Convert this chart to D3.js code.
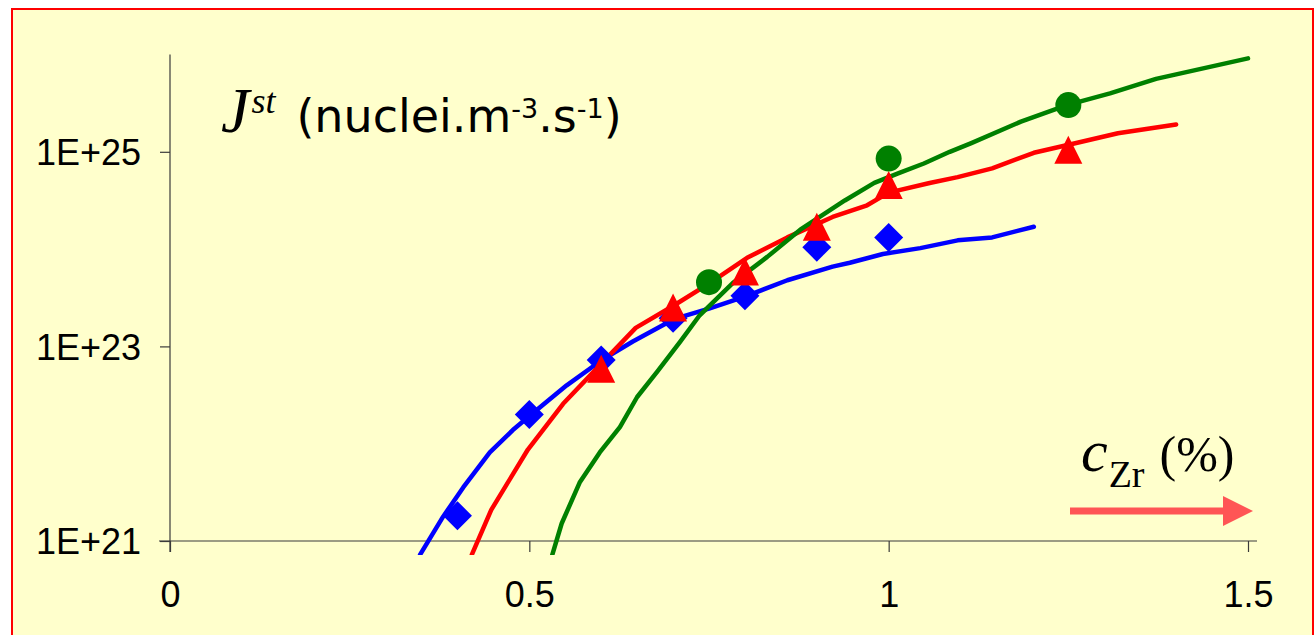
<!DOCTYPE html>
<html>
<head>
<meta charset="utf-8">
<script src="https://cdn.jsdelivr.net/npm/d3@7"></script>
<style>
  html, body { margin: 0; padding: 0; background: #ffffff; }
  svg { display: block; }
</style>
</head>
<body>
<svg id="chart" width="1315" height="635"></svg>
<script>
// Steady-state nucleation rate J (log10 of nuclei.m^-3.s^-1) versus Zr content (%)
const xTicks = [0, 0.5, 1, 1.5];
const yTicks = [1e21, 1e23, 1e25];
const yTickLabels = ["1E+21", "1E+23", "1E+25"];

// Model curves
const blueLineX = [0.348, 0.380, 0.408, 0.445, 0.477, 0.501, 0.552, 0.601, 0.644, 0.701, 0.751, 0.803, 0.859, 0.922, 0.946, 0.992, 1.044, 1.096, 1.144, 1.202];
const blueLineLogJ = [20.86, 21.25, 21.55, 21.91, 22.14, 22.29, 22.60, 22.86, 23.05, 23.28, 23.39, 23.52, 23.68, 23.82, 23.86, 23.95, 24.01, 24.09, 24.12, 24.23];

const redLineX = [0.420, 0.447, 0.498, 0.547, 0.596, 0.648, 0.701, 0.751, 0.803, 0.859, 0.922, 0.970, 1.000, 1.057, 1.096, 1.144, 1.202, 1.261, 1.319, 1.400];
const redLineLogJ = [20.86, 21.32, 21.94, 22.41, 22.79, 23.19, 23.42, 23.65, 23.91, 24.12, 24.33, 24.45, 24.58, 24.68, 24.74, 24.83, 24.99, 25.09, 25.19, 25.28];

const greenLineX = [0.532, 0.545, 0.570, 0.598, 0.626, 0.650, 0.678, 0.710, 0.737, 0.783, 0.831, 0.877, 0.939, 0.980, 1.014, 1.049, 1.085, 1.115, 1.184, 1.248, 1.308, 1.372, 1.500];
const greenLineLogJ = [20.86, 21.18, 21.60, 21.91, 22.17, 22.48, 22.74, 23.05, 23.32, 23.65, 23.92, 24.20, 24.50, 24.68, 24.78, 24.88, 25.00, 25.09, 25.31, 25.48, 25.60, 25.75, 25.96];

// Measured points
const blueDotX = [0.4, 0.5, 0.6, 0.7, 0.8, 0.9, 1.0];
const blueDotLogJ = [21.26, 22.30, 22.86, 23.29, 23.52, 24.02, 24.12];

const redDotX = [0.6, 0.7, 0.8, 0.9, 1.0, 1.25];
const redDotLogJ = [22.77, 23.40, 23.77, 24.23, 24.66, 25.02];

const greenDotX = [0.75, 1.0, 1.25];
const greenDotLogJ = [23.66, 24.93, 25.48];

const svg = d3.select("#chart");

// frame
svg.append("rect").attr("x", 12).attr("y", 9).attr("width", 1301).attr("height", 640)
  .attr("fill", "#FFFFCC").attr("stroke", "#FF0000").attr("stroke-width", 2);

const x = d3.scaleLinear().domain([0, 1.5]).range([170, 1248]);
const y = d3.scaleLog().domain([1e21, 1e26]).range([541, 54.5]);

const zip = (xs, ls) => xs.map((v, i) => ({ x: v, j: Math.pow(10, ls[i]) }));

// clip for the plot region (curves run slightly below the 1E+21 line)
svg.append("clipPath").attr("id", "plotClip")
  .append("rect").attr("x", 170).attr("y", 40).attr("width", 1090).attr("height", 515);

// axes
const axisColor = "#3a3a3a";
const g = svg.append("g");
g.append("line").attr("x1", x(0)).attr("x2", x(0)).attr("y1", y(1e26)).attr("y2", y(1e21) + 11)
  .attr("stroke", axisColor).attr("stroke-width", 1.2);
g.append("line").attr("x1", x(0) - 11).attr("x2", x(1.5) + 9).attr("y1", y(1e21)).attr("y2", y(1e21))
  .attr("stroke", axisColor).attr("stroke-width", 1.2);

const tickFont = "'Liberation Sans', Arial, sans-serif";
const xAxis = d3.axisBottom(x).tickValues(xTicks).tickSize(11).tickSizeOuter(0)
  .tickFormat(d3.format("~g"));
const xg = svg.append("g").attr("transform", `translate(0,${y(1e21)})`).call(xAxis);
xg.select(".domain").remove();
xg.selectAll(".tick line").attr("stroke", axisColor).attr("stroke-width", 1.2);
xg.selectAll(".tick text").attr("y", 66).attr("dy", 0)
  .attr("font-family", tickFont).attr("font-size", 36).attr("fill", "#000");

const yAxis = d3.axisLeft(y).tickValues(yTicks).tickSize(10).tickSizeOuter(0)
  .tickFormat((d, i) => yTickLabels[i]);
const yg = svg.append("g").attr("transform", `translate(${x(0)},0)`).call(yAxis);
yg.select(".domain").remove();
yg.selectAll(".tick line").attr("stroke", axisColor).attr("stroke-width", 1.2);
yg.selectAll(".tick text").attr("x", -29).attr("dy", "0.36em")
  .attr("font-family", tickFont).attr("font-size", 36).attr("fill", "#000");

// curves
const line = d3.line().x(d => x(d.x)).y(d => y(d.j));
const curves = [
  { xs: blueLineX, ls: blueLineLogJ, color: "#0000FF" },
  { xs: redLineX, ls: redLineLogJ, color: "#FF0000" },
  { xs: greenLineX, ls: greenLineLogJ, color: "#008000" }
];
const curveG = svg.append("g").attr("clip-path", "url(#plotClip)");
curves.forEach(c => {
  curveG.append("path").datum(zip(c.xs, c.ls)).attr("d", line)
    .attr("fill", "none").attr("stroke", c.color).attr("stroke-width", 4.5)
    .attr("stroke-linejoin", "round").attr("stroke-linecap", "round");
});

// markers
const markG = svg.append("g");
markG.selectAll(".dia").data(zip(blueDotX, blueDotLogJ)).enter().append("path")
  .attr("d", "M0,-14.5L14.5,0L0,14.5L-14.5,0Z")
  .attr("transform", d => `translate(${x(d.x)},${y(d.j)})`).attr("fill", "#0000FF");
markG.selectAll(".tri").data(zip(redDotX, redDotLogJ)).enter().append("path")
  .attr("d", "M0,-14L14,14L-14,14Z")
  .attr("transform", d => `translate(${x(d.x)},${y(d.j)})`).attr("fill", "#FF0000");
markG.selectAll(".cir").data(zip(greenDotX, greenDotLogJ)).enter().append("circle")
  .attr("cx", d => x(d.x)).attr("cy", d => y(d.j)).attr("r", 13).attr("fill", "#008000");

// y title
const serif = "'Liberation Serif', 'Times New Roman', serif";
const sans = "'DejaVu Sans', sans-serif";
const yt = svg.append("text").attr("x", 221).attr("y", 132).attr("fill", "#000");
yt.append("tspan").attr("font-family", serif).attr("font-style", "italic").attr("font-size", 64).text("J");
yt.append("tspan").attr("font-family", serif).attr("font-style", "italic").attr("font-size", 36)
  .attr("dy", -19).attr("dx", 2).text("st");
yt.append("tspan").attr("font-family", sans).attr("font-size", 46)
  .attr("dy", 19).attr("dx", 21).text("(nuclei.m");
yt.append("tspan").attr("font-family", sans).attr("font-size", 27)
  .attr("dy", -14).text("-3");
yt.append("tspan").attr("font-family", sans).attr("font-size", 46)
  .attr("dy", 14).text(".s");
yt.append("tspan").attr("font-family", sans).attr("font-size", 27)
  .attr("dy", -14).text("-1");
yt.append("tspan").attr("font-family", sans).attr("font-size", 46)
  .attr("dy", 14).text(")");

// x title
const xt = svg.append("text").attr("x", 1081).attr("y", 471).attr("fill", "#000")
  .attr("font-family", serif);
xt.append("tspan").attr("font-style", "italic").attr("font-size", 60).text("c");
xt.append("tspan").attr("font-size", 38).attr("dy", 16).attr("dx", 1).text("Zr");
xt.append("tspan").attr("font-size", 50).attr("dy", -16).attr("dx", 15).text("(%)");

// direction arrow
svg.append("line").attr("x1", 1070).attr("x2", 1224).attr("y1", 511).attr("y2", 511)
  .attr("stroke", "#FF5555").attr("stroke-width", 7);
svg.append("path").attr("d", "M1223,496L1253,511L1223,526Z").attr("fill", "#FF5555");
</script>
</body>
</html>
